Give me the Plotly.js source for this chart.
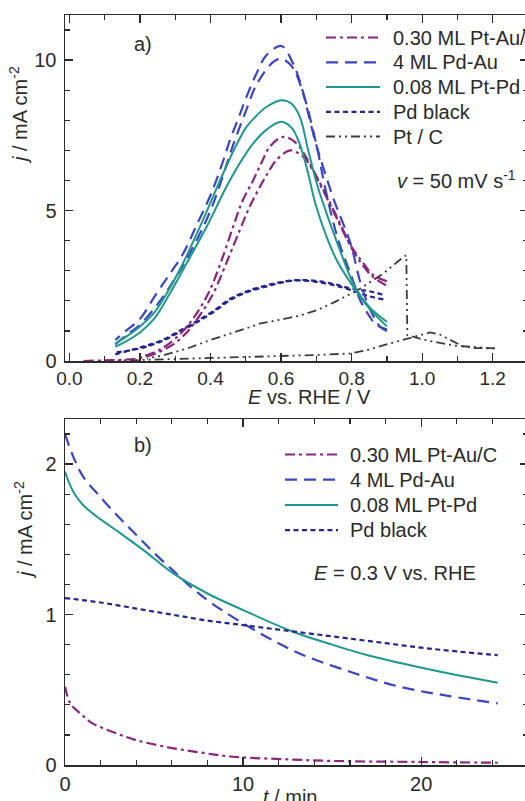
<!DOCTYPE html>
<html>
<head>
<meta charset="utf-8">
<script src="https://cdn.plot.ly/plotly-3.0.1.min.js"></script>
<style>
html,body{margin:0;padding:0;background:#fff;overflow:hidden;}
#chart{width:528px;height:801px;}
</style>
</head>
<body>
<div id="chart"></div>
<script>
// ---------- Panel a) cyclic voltammograms (E / V vs RHE, j / mA cm^-2) ----------
// each voltammogram: forward and backward sweep
const ptAu_fwd_E = [0.04,0.1,0.15,0.2,0.25,0.3,0.34,0.38,0.408,0.45,0.483,0.51,0.54,0.565,0.587,0.625,0.65,0.672,0.7,0.735,0.77,0.8,0.83,0.86,0.9];
const ptAu_fwd_j = [0.0,0.02,0.04,0.1,0.28,0.6,1.05,1.7,2.25,3.4,4.35,5.1,5.79,6.3,6.68,7.0,6.9,6.68,6.1,5.3,4.45,3.75,3.2,2.8,2.5];
const ptAu_bwd_E = [0.9,0.862,0.83,0.797,0.77,0.735,0.7,0.672,0.644,0.606,0.568,0.545,0.521,0.49,0.464,0.43,0.394,0.354,0.316,0.26,0.2];
const ptAu_bwd_j = [2.65,2.85,3.3,3.85,4.5,5.35,6.15,6.75,7.23,7.45,7.12,6.6,6.01,5.3,4.46,3.3,2.25,1.47,0.92,0.4,0.12];

const pdAu_fwd_E = [0.13,0.16,0.2,0.26,0.3,0.34,0.4,0.469,0.5,0.531,0.578,0.6,0.63,0.66,0.7,0.726,0.76,0.8,0.825,0.85,0.87,0.9];
const pdAu_fwd_j = [0.55,0.85,1.2,2.05,2.75,3.55,5.0,7.34,8.3,9.2,9.94,10.05,9.8,9.0,7.2,5.7,4.1,2.8,2.0,1.5,1.2,1.05];
const pdAu_bwd_E = [0.9,0.88,0.853,0.825,0.797,0.75,0.715,0.696,0.677,0.658,0.634,0.601,0.559,0.53,0.502,0.48,0.455,0.43,0.398,0.36,0.323,0.285,0.247,0.2,0.16,0.13];
const pdAu_bwd_j = [1.0,1.15,1.7,2.6,3.9,5.35,6.6,7.34,8.23,9.11,9.89,10.47,10.17,9.55,8.78,8.1,7.34,6.45,5.46,4.5,3.58,2.9,2.25,1.4,1.0,0.7];

const ptPd_fwd_E = [0.13,0.16,0.2,0.24,0.285,0.33,0.389,0.455,0.521,0.56,0.601,0.63,0.65,0.672,0.698,0.73,0.76,0.81,0.85,0.9];
const ptPd_fwd_j = [0.47,0.65,0.95,1.4,2.25,3.2,4.46,6.01,7.23,7.7,7.95,7.75,7.3,6.46,5.2,4.1,3.3,2.38,1.75,1.15];
const ptPd_bwd_E = [0.9,0.85,0.81,0.76,0.716,0.7,0.677,0.653,0.63,0.601,0.559,0.53,0.502,0.47,0.436,0.37,0.32,0.276,0.24,0.2,0.16,0.13];
const ptPd_bwd_j = [1.3,1.8,2.45,3.9,5.35,5.95,7.0,8.12,8.55,8.67,8.45,8.15,7.78,7.1,6.24,4.46,3.2,2.25,1.6,1.15,0.8,0.58];

const pdBlack_fwd_E = [0.13,0.2,0.26,0.33,0.4,0.464,0.514,0.56,0.6,0.644,0.7,0.75,0.797,0.85,0.89];
const pdBlack_fwd_j = [0.22,0.45,0.68,1.12,1.6,2.12,2.36,2.52,2.62,2.69,2.66,2.56,2.41,2.32,2.2];
const pdBlack_bwd_E = [0.89,0.85,0.8,0.75,0.7,0.646,0.6,0.56,0.514,0.464,0.4,0.33,0.26,0.2,0.13];
const pdBlack_bwd_j = [2.05,2.15,2.35,2.52,2.63,2.68,2.6,2.48,2.33,2.08,1.56,1.08,0.65,0.42,0.28];

const ptC_fwd_E = [0.1,0.2,0.3,0.4,0.514,0.6,0.7,0.797,0.85,0.91,0.95,0.975,1.0,1.023,1.05,1.08,1.117,1.15,1.206];
const ptC_fwd_j = [0.0,0.03,0.06,0.1,0.14,0.16,0.2,0.25,0.38,0.59,0.72,0.81,0.9,0.95,0.88,0.7,0.48,0.43,0.42];
const ptC_bwd_E = [1.206,1.15,1.1,1.05,1.0,0.97,0.958,0.955,0.93,0.89,0.85,0.825,0.8,0.75,0.702,0.65,0.6,0.542,0.5,0.45,0.4,0.335,0.27,0.22];
const ptC_bwd_j = [0.42,0.45,0.5,0.6,0.72,0.82,0.86,3.52,3.3,2.91,2.6,2.41,2.25,1.95,1.69,1.5,1.38,1.25,1.08,0.9,0.7,0.42,0.2,0.08];

// ---------- Panel b) chronoamperometry at 0.3 V (t / min, j / mA cm^-2) ----------
const ca_ptAu_t = [0,0.25,0.5,0.84,1.5,2.9,4,5.7,7.5,9.4,12,15,20,24.3];
const ca_ptAu_j = [0.52,0.42,0.38,0.345,0.28,0.21,0.165,0.12,0.085,0.055,0.04,0.027,0.02,0.015];

const ca_pdAu_t = [0,0.5,1,2,3,4,5,6,7,8.3,10.8,13.2,16,18.8,21.5,24.3];
const ca_pdAu_j = [2.2,2.04,1.92,1.78,1.65,1.53,1.41,1.3,1.19,1.07,0.886,0.74,0.62,0.52,0.46,0.41];

const ca_ptPd_t = [0,0.25,0.5,1,1.8,3,4.5,6,8,10,12.8,15,17,20.7,24.3];
const ca_ptPd_j = [1.95,1.87,1.81,1.73,1.65,1.55,1.42,1.28,1.14,1.03,0.886,0.8,0.73,0.63,0.547];

const ca_pdBlack_t = [0,2,4,6,8,10,12,14,16,18,20,22,24.3];
const ca_pdBlack_j = [1.11,1.08,1.04,1.0,0.96,0.93,0.9,0.87,0.84,0.81,0.78,0.755,0.73];

const namesA = ["0.30 ML Pt-Au/C","4 ML Pd-Au","0.08 ML Pt-Pd","Pd black","Pt / C"];
const namesB = ["0.30 ML Pt-Au/C","4 ML Pd-Au","0.08 ML Pt-Pd","Pd black"];

// ---------- styles ----------
const st = [
  {color:"#8a2581", width:2.2, dash:"10px,4px,3px,4px"},      // Pt-Au/C
  {color:"#3b45c6", width:2.2, dash:"12px,7px"},              // Pd-Au
  {color:"#1f968e", width:2},                                  // Pt-Pd
  {color:"#25258f", width:2.2, dash:"5px,3.5px"},             // Pd black
  {color:"#3c3c3c", width:1.8, dash:"9px,4px,2px,4px,2px,4px"} // Pt/C
];

function tr(x,y,name,k,xa,ya,smooth){
  return {x:x,y:y,name:name,type:"scatter",mode:"lines",
          line:Object.assign({shape:smooth?"spline":"linear",smoothing:smooth?1:0},st[k]),
          xaxis:xa,yaxis:ya,showlegend:false,hoverinfo:"skip"};
}

const data = [
  tr(ptC_fwd_E,ptC_fwd_j,namesA[4],4,"x","y",false),
  tr(ptC_bwd_E,ptC_bwd_j,namesA[4],4,"x","y",false),
  tr(pdBlack_fwd_E,pdBlack_fwd_j,namesA[3],3,"x","y",true),
  tr(pdBlack_bwd_E,pdBlack_bwd_j,namesA[3],3,"x","y",true),
  tr(ptAu_fwd_E,ptAu_fwd_j,namesA[0],0,"x","y",true),
  tr(ptAu_bwd_E,ptAu_bwd_j,namesA[0],0,"x","y",true),
  tr(pdAu_fwd_E,pdAu_fwd_j,namesA[1],1,"x","y",true),
  tr(pdAu_bwd_E,pdAu_bwd_j,namesA[1],1,"x","y",true),
  tr(ptPd_fwd_E,ptPd_fwd_j,namesA[2],2,"x","y",true),
  tr(ptPd_bwd_E,ptPd_bwd_j,namesA[2],2,"x","y",true),
  tr(ca_ptAu_t,ca_ptAu_j,namesB[0],0,"x2","y2",true),
  tr(ca_pdAu_t,ca_pdAu_j,namesB[1],1,"x2","y2",true),
  tr(ca_ptPd_t,ca_ptPd_j,namesB[2],2,"x2","y2",true),
  tr(ca_pdBlack_t,ca_pdBlack_j,namesB[3],3,"x2","y2",true)
];

const FONT = "Liberation Sans, Arial, sans-serif";
const TXT = "#2a2a2a";
const FS = 20;
function axis(extra){
  return Object.assign({
    showline:true, linecolor:"#2a2a2a", linewidth:1.5, mirror:"allticks",
    ticks:"inside", ticklen:8, tickwidth:1.3, tickcolor:"#2a2a2a",
    showgrid:false, zeroline:false, fixedrange:true,
    tickfont:{family:FONT,size:FS,color:TXT}
  }, extra);
}
function minor(d){ return {ticks:"inside",ticklen:5,dtick:d,tick0:0,tickcolor:"#2a2a2a",tickwidth:1.2}; }

// plot area: x 65..528 px, y 15..765 px  => paper x=(px-65)/463, paper y=(765-py)/750
const px = v => (v-65)/463;
const py = v => (765-v)/750;

// legend keys (swatches + labels)
const shapes = [], annotations = [];
function legendRow(k, label, y, x0, x1, xt){
  shapes.push({type:"line", xref:"paper", yref:"paper", x0:px(x0), x1:px(x1), y0:py(y), y1:py(y),
               line:{color:st[k].color, width:st[k].width, dash:st[k].dash||"solid"}});
  annotations.push({text:label, xref:"paper", yref:"paper", x:px(xt), y:py(y), xanchor:"left", yanchor:"middle",
                    showarrow:false, font:{size:FS}});
}
const rowsA = [37.5, 62.3, 87, 111.8, 136.5];
namesA.forEach((n,i)=>legendRow(i, n, rowsA[i], 326, 380, 391));
const rowsB = [454.5, 479.7, 504.9, 530.1];
namesB.forEach((n,i)=>legendRow(i, n, rowsB[i], 285, 338, 348));

function ann(text,x,y,opts){
  annotations.push(Object.assign({text:text, xref:"paper", yref:"paper", x:px(x), y:py(y),
    xanchor:"center", yanchor:"middle", showarrow:false, font:{size:FS}}, opts||{}));
}
ann("a)", 143, 44);
ann("b)", 143, 445);
ann("<i>v</i> = 50 mV s<sup>-1</sup>", 395, 180, {xanchor:"left"});
ann("<i>E</i> = 0.3 V vs. RHE", 312, 573, {xanchor:"left"});
ann("<i>E</i> vs. RHE / V", 309, 397);
ann("<i>t</i> / min", 290, 797);
ann("<i>j</i> / mA cm<sup>-2</sup>", 19, 115, {textangle:-90});
ann("<i>j</i> / mA cm<sup>-2</sup>", 23, 530, {textangle:-90});

const layout = {
  width:528, height:801,
  margin:{l:65,r:0,t:15,b:36,autoexpand:false},
  paper_bgcolor:"#fff", plot_bgcolor:"#fff",
  font:{family:FONT,color:TXT,size:FS},
  showlegend:false,
  xaxis: axis({domain:[0,1], anchor:"y", range:[-0.0125,1.3], tick0:0, dtick:0.2, tickformat:".1f",
               minor:minor(0.1), ticklabelstandoff:0, tickfont:{family:FONT,size:19,color:TXT}}),
  yaxis: axis({domain:[py(361),1], anchor:"x", range:[0,11.5], tick0:0, dtick:5,
               minor:minor(1), ticklabelstandoff:3}),
  xaxis2: axis({domain:[0,1], anchor:"y2", range:[0,26], tick0:0, dtick:10,
               minor:minor(2), ticklabelstandoff:0}),
  yaxis2: axis({domain:[0,py(419)], anchor:"x2", range:[0,2.3], tick0:0, dtick:1,
               minor:minor(0.2), ticklabelstandoff:3}),
  shapes:shapes,
  annotations:annotations
};

Plotly.newPlot("chart", data, layout, {displayModeBar:false, staticPlot:true});
</script>
</body>
</html>
